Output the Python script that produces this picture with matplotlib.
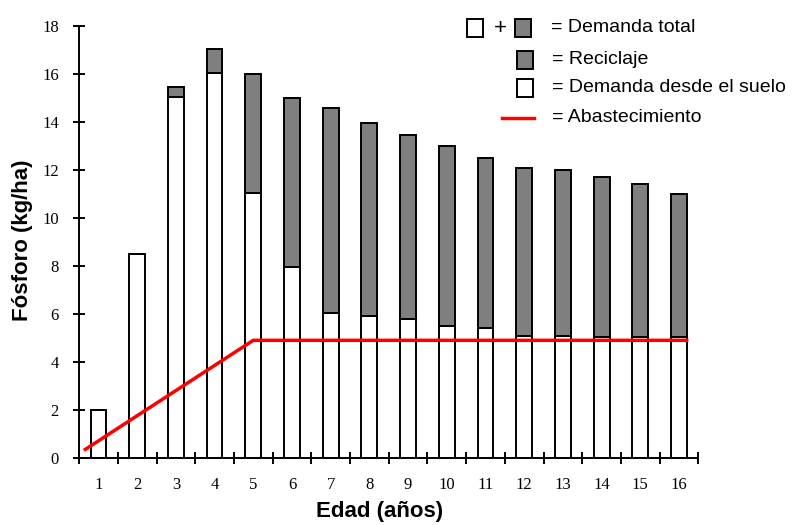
import matplotlib
matplotlib.use('Agg')
import matplotlib.pyplot as plt
from matplotlib.patches import Rectangle
from matplotlib.lines import Line2D
import numpy as np

# data
edad = list(range(1, 17))
demanda_total = [2.0, 8.5, 15.45, 17.05, 16.0, 15.0, 14.6, 13.95, 13.45, 13.0,
                 12.5, 12.1, 12.0, 11.7, 11.4, 11.0]
demanda_suelo = [2.0, 8.5, 15.05, 16.05, 11.05, 7.95, 6.05, 5.9, 5.8, 5.5,
                 5.4, 5.1, 5.1, 5.05, 5.05, 5.05]
reciclaje = [t - s for t, s in zip(demanda_total, demanda_suelo)]
abast_x = [0.66, 5.0, 16.2]
abast_y = [0.35, 4.9, 4.9]

gris = '#7f7f7f'
rojo = '#ff0000'

fig = plt.figure(figsize=(7.99, 5.25), dpi=100)
ax = fig.add_axes([0.099, 0.128, 0.775, 0.822])

ancho = 0.41
ax.bar(edad, demanda_suelo, width=ancho, color='white', edgecolor='black',
       linewidth=1.4, zorder=2)
ax.bar(edad, reciclaje, bottom=demanda_suelo, width=ancho, color=gris,
       edgecolor='black', linewidth=1.4, zorder=2)
ax.plot(abast_x, abast_y, color=rojo, linewidth=2.5, zorder=3)

ax.set_xlim(0.5, 16.5)
ax.set_ylim(0, 18)
ax.set_yticks(np.arange(0, 19, 2))
ax.set_xticks(edad)
ax.set_xticks(np.arange(0.5, 17, 1), minor=True)
ax.tick_params(axis='x', which='major', length=0, pad=14)
ax.tick_params(axis='x', which='minor', direction='inout', length=9, width=1.4)
ax.tick_params(axis='y', direction='inout', length=9, width=1.4, pad=10)
for lab in ax.get_xticklabels() + ax.get_yticklabels():
    lab.set_fontfamily('Liberation Serif')
    lab.set_fontsize(12)

for s in ['top', 'right']:
    ax.spines[s].set_visible(False)
for s in ['left', 'bottom']:
    ax.spines[s].set_linewidth(1.4)

ax.set_xlabel('Edad (años)', fontsize=16, fontweight='bold',
              fontfamily='Liberation Sans')
ax.set_ylabel('Fósforo (kg/ha)', fontsize=16, fontweight='bold',
              fontfamily='Liberation Sans')
ax.xaxis.set_label_coords(0.486, -0.100)
ax.yaxis.set_label_coords(-0.075, 0.505)

# hand-made legend in figure pixels
W, H = 799, 525

def caja(x, y, color):
    fig.patches.append(Rectangle((x / W, 1 - (y + 9) / H), 16 / W, 18 / H,
                                 transform=fig.transFigure, facecolor=color,
                                 edgecolor='black', linewidth=1.4))

def texto(x, y, s):
    fig.text(x / W, 1 - y / H, s, fontsize=14, fontfamily='Liberation Sans',
             va='center', ha='left')

caja(467, 28, 'white')
fig.text(500 / W, 1 - 29 / H, '+', fontsize=16, fontfamily='Liberation Sans',
         va='center', ha='center')
caja(515, 28, gris)
texto(551, 28, '= Demanda total')
caja(517, 60, gris)
texto(552, 60, '= Reciclaje')
caja(517, 88, 'white')
texto(552, 88, '= Demanda desde el suelo')
fig.lines.append(Line2D([502 / W, 534 / W], [1 - 118 / H, 1 - 118 / H],
                        transform=fig.transFigure, color=rojo, linewidth=2.5))
texto(552, 117, '= Abastecimiento')

fig.savefig('out.png', dpi=100)
